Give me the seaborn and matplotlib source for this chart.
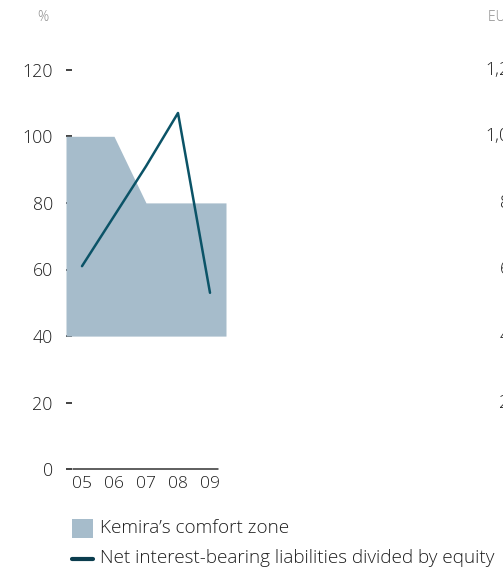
import matplotlib
matplotlib.use("Agg")
import matplotlib.pyplot as plt
import seaborn as sns
import pandas as pd
from matplotlib.patches import Rectangle
from matplotlib.lines import Line2D

# ---- data ----
years = ["05", "06", "07", "08", "09"]
year_pos = [5, 6, 7, 8, 9]
gearing = [61, 76, 91, 107, 53]          # Net interest-bearing liabilities / equity, %
zone_x = [4.5, 6, 7, 9.5]                # comfort zone outline
zone_top = [100, 100, 80, 80]
zone_bottom = 40
y_ticks = [0, 20, 40, 60, 80, 100, 120]
right_labels = ["1,200", "1,000", "800", "600", "400", "200"]
right_values = [120, 100, 80, 60, 40, 20]

ZONE_C = "#a6bccb"
LINE_C = "#0b5367"
TEXT_C = "#1e1e1e"

sns.set_theme(style="white")
plt.rcParams["font.family"] = ["Open Sans", "DejaVu Sans"]
plt.rcParams["font.weight"] = "light"

W, H = 503, 572
fig = plt.figure(figsize=(W / 100, H / 100), dpi=100)
ax = fig.add_axes([66 / W, (H - 469.3) / H, 160 / W, 399.6 / H])

df = pd.DataFrame({"year": year_pos, "gearing": gearing})
ax.fill_between(zone_x, zone_bottom, zone_top, color=ZONE_C, lw=0, zorder=1)
sns.lineplot(data=df, x="year", y="gearing", ax=ax, color=LINE_C, lw=1.8, zorder=3)

ax.set_xlim(4.5, 9.5)
ax.set_ylim(0, 120)
for s in ax.spines.values():
    s.set_visible(False)
ax.set_xlabel("")
ax.set_ylabel("")
ax.set_xticks(year_pos)
ax.set_xticklabels(years)
ax.set_yticks(y_ticks)
ax.set_yticklabels([str(v) for v in y_ticks])
ax.tick_params(axis="y", direction="in", length=4, width=1.2, color="#222222",
               pad=9.5, labelsize=12.8, labelcolor=TEXT_C, left=True)
ax.tick_params(axis="x", length=0, pad=5, labelsize=12.5, labelcolor=TEXT_C, bottom=False)
ax.axhline(0, xmin=0.044, xmax=0.95, color="#333333", lw=1.1, clip_on=False, zorder=4)

fig.text(43 / W, 1 - 17.5 / H, "%", ha="center", va="center", fontsize=10, color="#8a8a8a")

# right-hand (cut-off) axis of the neighbouring chart
fig.text(488 / W, 1 - 17.5 / H, "EUR million", ha="left", va="center", fontsize=10, color="#8a8a8a")
for lab, v in zip(right_labels, right_values):
    ypx = 469.3 - v / 120 * 399.6
    fig.text(530 / W, 1 - ypx / H, lab, ha="right", va="center", fontsize=12.8, color=TEXT_C)

# legend
fig.patches.append(Rectangle((72 / W, 1 - 537.5 / H), 21 / W, 19 / H,
                             transform=fig.transFigure, color=ZONE_C, lw=0))
fig.text(100.5 / W, 1 - 528 / H, "Kemira\u2019s comfort zone", ha="left", va="center",
         fontsize=13.6, color=TEXT_C)
fig.lines.append(Line2D([72 / W, 93 / W], [1 - 559 / H, 1 - 559 / H],
                        transform=fig.transFigure, color="#0b3d4e", lw=3))
fig.text(100.5 / W, 1 - 558 / H, "Net interest-bearing liabilities divided by equity",
         ha="left", va="center", fontsize=13.6, color=TEXT_C)

fig.savefig("out.png", dpi=100)
